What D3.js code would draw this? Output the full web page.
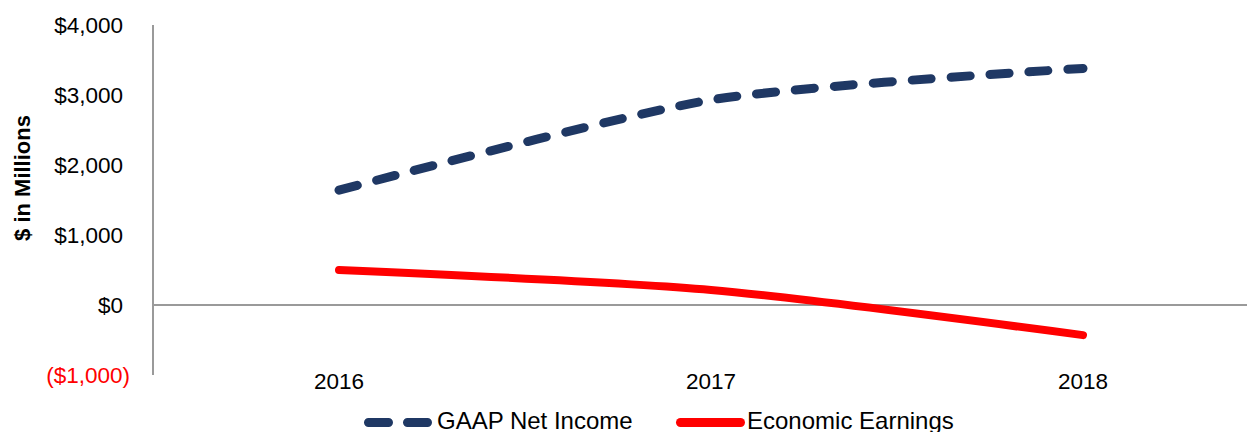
<!DOCTYPE html>
<html>
<head>
<meta charset="utf-8">
<script src="https://cdn.jsdelivr.net/npm/d3@7"></script>
<style>
  body { margin: 0; background: #fff; }
  text { font-family: "Liberation Sans", Arial, sans-serif; }
</style>
</head>
<body>
<div id="chart"></div>
<script>
const years = ['2016', '2017', '2018'];
const gaap_net_income = [1640, 2930, 3380];
const economic_earnings = [500, 215, -430];
const y_ticks = [-1000, 0, 1000, 2000, 3000, 4000];

const width = 1247;
const height = 432;
const left_margin = 153;

function tickLabel(v){
    const s = '$' + d3.format(',')(Math.abs(v));
    return v < 0 ? '(' + s + ')' : s;
}

const svg = d3.select('#chart').append('svg')
              .attr('width', width)
              .attr('height', height);

let x = d3.scaleBand().domain(years).range([left_margin, 1269]);
let y = d3.scaleLinear().domain([-1000, 4000]).range([375, 25]);

// y axis line
svg.append('line')
   .attr('x1', left_margin).attr('x2', left_margin)
   .attr('y1', y(4000)).attr('y2', y(-1000))
   .attr('stroke', '#9a9a9a').attr('stroke-width', 2);

// zero line
svg.append('line')
   .attr('x1', left_margin).attr('x2', width)
   .attr('y1', y(0)).attr('y2', y(0))
   .attr('stroke', '#9a9a9a').attr('stroke-width', 2);

// y tick labels
svg.selectAll('text.yticks')
   .data(y_ticks)
   .enter()
   .append('text')
   .text(function(d){return tickLabel(d);})
   .attr('x', function(d){return d < 0 ? 130 : 123;})
   .attr('y', function(d){return y(d);})
   .attr('dy', '0.35em')
   .attr('text-anchor', 'end')
   .attr('font-size', 22.5)
   .attr('fill', function(d){return d < 0 ? '#ff0000' : '#000';});

// x labels
svg.selectAll('text.xticks')
   .data(years)
   .enter()
   .append('text')
   .text(function(d){return d;})
   .attr('x', function(d){return x(d) + x.bandwidth()/2;})
   .attr('y', 389)
   .attr('text-anchor', 'middle')
   .attr('font-size', 22.5)
   .attr('fill', '#000');

// y title
svg.append('text')
   .text('$ in Millions')
   .attr('transform', 'translate(30,178) rotate(-90)')
   .attr('text-anchor', 'middle')
   .attr('font-size', 22)
   .attr('font-weight', 'bold')
   .attr('fill', '#000');

const line = d3.line()
               .x(function(d, i){return x(years[i]) + x.bandwidth()/2;})
               .y(function(d){return y(d);})
               .curve(d3.curveCardinal.tension(0.3));

svg.append('path')
   .datum(economic_earnings)
   .attr('d', line)
   .attr('fill', 'none')
   .attr('stroke', '#ff0000')
   .attr('stroke-width', 8)
   .attr('stroke-linecap', 'round');

svg.append('path')
   .datum(gaap_net_income)
   .attr('d', line)
   .attr('fill', 'none')
   .attr('stroke', '#1f3864')
   .attr('stroke-width', 9)
   .attr('stroke-dasharray', '19,20')
   .attr('stroke-linecap', 'round');

// legend
const legend_y = 422.5;
svg.append('line')
   .attr('x1', 368.5).attr('x2', 427.5)
   .attr('y1', legend_y).attr('y2', legend_y)
   .attr('stroke', '#1f3864').attr('stroke-width', 9)
   .attr('stroke-dasharray', '20,19')
   .attr('stroke-linecap', 'round');
svg.append('text')
   .text('GAAP Net Income')
   .attr('x', 437).attr('y', 429)
   .attr('font-size', 24)
   .attr('fill', '#000');

svg.append('line')
   .attr('x1', 680.5).attr('x2', 740.5)
   .attr('y1', legend_y).attr('y2', legend_y)
   .attr('stroke', '#ff0000').attr('stroke-width', 9)
   .attr('stroke-linecap', 'round');
svg.append('text')
   .text('Economic Earnings')
   .attr('x', 747).attr('y', 429)
   .attr('font-size', 24)
   .attr('fill', '#000');
</script>
</body>
</html>
